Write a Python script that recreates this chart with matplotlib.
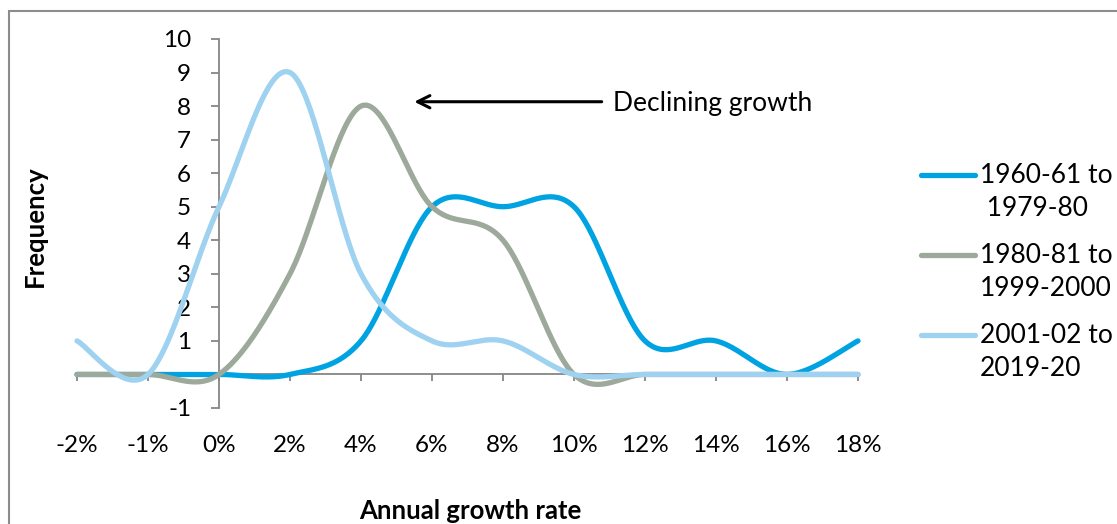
import numpy as np
import matplotlib
matplotlib.use("Agg")
import matplotlib.pyplot as plt
from matplotlib.lines import Line2D
from matplotlib.patches import Rectangle
from matplotlib.transforms import blended_transform_factory

plt.rcParams['font.family'] = ['Lato', 'DejaVu Sans']

# growth-rate bins (category axis, evenly spaced)
categories = ["-2%", "-1%", "0%", "2%", "4%", "6%", "8%", "10%", "12%", "14%", "16%", "18%"]

# number of years falling in each growth bin
freq_1960s = [0, 0, 0, 0, 1, 5, 5, 5, 1, 1, 0, 1]
freq_1980s = [0, 0, 0, 3, 8, 5, 4, 0, 0, 0, 0, 0]
freq_2000s = [1, 0, 5, 9, 3, 1, 1, 0, 0, 0, 0, 0]

series_labels = ["1960-61 to\n 1979-80", "1980-81 to\n1999-2000", "2001-02 to\n2019-20"]
series_colors = ["#00A3E1", "#9CA99B", "#9FD2F0"]

ytick_vals = [-1, 0, 1, 2, 3, 4, 5, 6, 7, 8, 9, 10]
ytick_text = ["-1", "-", "1", "2", "3", "4", "5", "6", "7", "8", "9", "10"]

TICK_FS = 17.5
TEXT_FS = 19
TITLE_FS = 18.5


def smooth(y, n=40):
    """Catmull-Rom style smoothing through every point (Excel 'smoothed line')."""
    y = np.asarray(y, dtype=float)
    x = np.arange(len(y), dtype=float)
    pts = np.column_stack([x, y])
    ext = np.vstack([pts[0], pts, pts[-1]])
    out = []
    t = np.linspace(0, 1, n)[:, None]
    for i in range(len(pts) - 1):
        p0, p1, p2, p3 = ext[i], ext[i + 1], ext[i + 2], ext[i + 3]
        c1 = p1 + (p2 - p0) / 6.0
        c2 = p2 - (p3 - p1) / 6.0
        seg = ((1 - t) ** 3) * p1 + 3 * ((1 - t) ** 2) * t * c1 + 3 * (1 - t) * t ** 2 * c2 + t ** 3 * p2
        out.append(seg if i == 0 else seg[1:])
    out = np.vstack(out)
    return out[:, 0], out[:, 1]


W, H = 1117, 524
fig = plt.figure(figsize=(W / 100, H / 100), dpi=100)

# chart border (only top and left edges fall inside the image)
fig.patches.append(Rectangle((8.5 / W, -0.1), 1.2, (H - 10.5) / H + 0.1,
                             transform=fig.transFigure, fill=False,
                             edgecolor="#8C8C8C", lw=1.5))

ax = fig.add_axes([77 / W, (H - 408) / H, (858 - 77) / W, (408 - 39) / H])
ax.set_xlim(0, len(categories) - 1)
ax.set_ylim(-1, 10)

for i, ys in enumerate([freq_1960s, freq_1980s, freq_2000s]):
    sx, sy = smooth(ys)
    ax.plot(sx, sy, color=series_colors[i], lw=3.8, solid_capstyle="round",
            zorder=3 + i, clip_on=False)

# axes cross at 0% on the x axis and 0 on the y axis
for s in ["top", "right"]:
    ax.spines[s].set_visible(False)
ax.spines["left"].set_position(("data", categories.index("0%")))
ax.spines["bottom"].set_position(("data", 0))
for s in ["left", "bottom"]:
    ax.spines[s].set_color("#868686")
    ax.spines[s].set_linewidth(1.3)

ax.set_yticks(ytick_vals)
ax.set_yticklabels(ytick_text)
ax.tick_params(axis="y", direction="out", length=6, width=1.3, color="#868686",
               labelsize=TICK_FS, pad=14)

ax.set_xticks(range(len(categories)))
ax.set_xticklabels([])
ax.tick_params(axis="x", direction="out", length=5, width=1.3, color="#868686")

# category labels sit below the plot area
trans = blended_transform_factory(ax.transData, fig.transFigure)
for i, lab in enumerate(categories):
    ax.text(i, (H - 446) / H, lab, transform=trans, ha="center", va="center",
            fontsize=TICK_FS)

fig.text(35 / W, (H - 226) / H, "Frequency", rotation=90, ha="center", va="center",
         fontsize=TITLE_FS, fontweight="bold")
fig.text(470 / W, (H - 511) / H, "Annual growth rate", ha="center", va="center",
         fontsize=TITLE_FS, fontweight="bold")

# arrow + note
ax.annotate("", xy=(4.75, 8.13), xytext=(7.39, 8.13),
            arrowprops=dict(arrowstyle="->", color="black", lw=2.2,
                            mutation_scale=22, shrinkA=0, shrinkB=0))
ax.text(7.55, 8.07, "Declining growth", ha="left", va="center", fontsize=TEXT_FS)

# legend: sample line aligned with the first text line of each entry
for i, lab in enumerate(series_labels):
    yc = (H - (175 + 80 * i)) / H
    fig.add_artist(Line2D([921 / W, 975 / W], [yc, yc], transform=fig.transFigure,
                          color=series_colors[i], lw=3.8, solid_capstyle="round"))
    fig.text(980 / W, yc + 12 / H, lab, ha="left", va="top", fontsize=TEXT_FS,
             linespacing=1.4)

fig.savefig("out.png", dpi=100)
